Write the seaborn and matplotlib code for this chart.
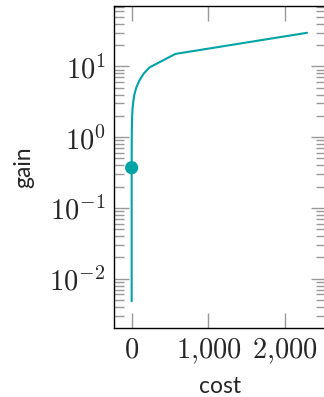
import math
import matplotlib
matplotlib.use("Agg")
import matplotlib.pyplot as plt
import matplotlib.ticker as mticker
import seaborn as sns
import pandas as pd

# values
cost = [0, 0, 1, 3, 6, 12, 22, 35, 60, 100, 160, 235, 570, 2282]
gain = [0.0048, 0.37, 0.9, 1.4, 1.95, 2.6, 3.2, 4.0, 5.0, 6.3, 8.0, 9.7, 15.0, 29.8]
marker_cost = [0]
marker_gain = [0.37]

x_ticks = [0, 1000, 2000]
y_ticks = [1e-2, 1e-1, 1e0, 1e1]

color = "#00a4a4"

sns.set_style("white")
plt.rcParams["mathtext.fontset"] = "cm"
plt.rcParams["font.family"] = ["Lato", "DejaVu Sans"]

df = pd.DataFrame({"cost": cost, "gain": gain})
df_marker = pd.DataFrame({"cost": marker_cost, "gain": marker_gain})

fig = plt.figure(figsize=(3.24, 3.97), dpi=100)
ax = fig.add_axes([114 / 324, 69 / 397, 212 / 324, 322 / 397])

sns.lineplot(data=df, x="cost", y="gain", sort=False, estimator=None,
             color=color, linewidth=1.5, ax=ax)
sns.scatterplot(data=df_marker, x="cost", y="gain", color=color, s=90,
                edgecolor="none", ax=ax, zorder=3)

ax.set_yscale("log")
ax.set_xlim(-230, 2530)
ax.set_ylim(10 ** -2.697, 10 ** 1.853)

ax.xaxis.set_major_locator(mticker.FixedLocator(x_ticks))
ax.xaxis.set_major_formatter(mticker.FuncFormatter(
    lambda v, p: "$" + f"{v:,.0f}".replace(",", "{,}") + "$"))
ax.yaxis.set_major_locator(mticker.FixedLocator(y_ticks))
ax.yaxis.set_major_formatter(mticker.FuncFormatter(
    lambda v, p: r"$10^{%d}$" % round(math.log10(v))))
ax.yaxis.set_minor_locator(mticker.LogLocator(base=10, subs=range(2, 10), numticks=20))
ax.yaxis.set_minor_formatter(mticker.NullFormatter())

ax.tick_params(which="both", direction="in", color="#999999", width=1,
               top=True, right=True, left=True, bottom=True,
               labelsize=20.5, pad=6)
ax.tick_params(which="major", length=11)
ax.tick_params(which="minor", length=7)

for s in ax.spines.values():
    s.set_color("black")
    s.set_linewidth(1.0)

ax.set_xlabel("cost", fontsize=16.5, labelpad=7)
ax.set_ylabel("gain", fontsize=16.5, labelpad=11)

fig.savefig("out.png", dpi=100)
